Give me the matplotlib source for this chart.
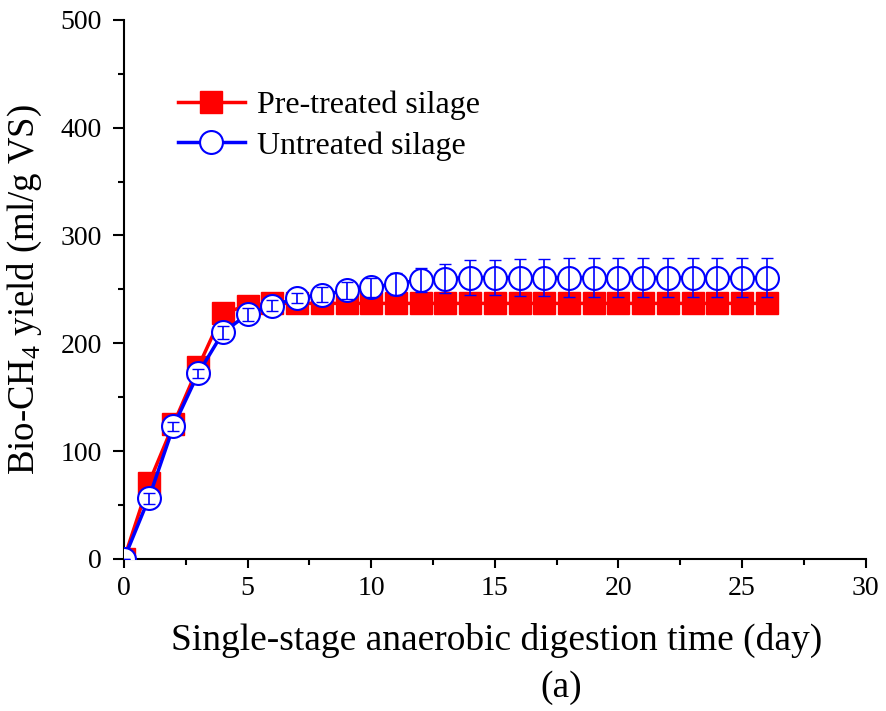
import numpy as np
import matplotlib
matplotlib.use("Agg")
import matplotlib.pyplot as plt
from matplotlib.ticker import MultipleLocator

plt.rcParams["font.family"] = ["Liberation Serif", "DejaVu Serif"]
plt.rcParams["mathtext.fontset"] = "custom"
plt.rcParams["mathtext.rm"] = "Liberation Serif"

days = np.arange(0, 27)
pre = [0, 70, 125, 178, 228, 235, 237, 237, 237, 237, 237, 237, 237, 237,
       237, 237, 237, 237, 237, 237, 237, 237, 237, 237, 237, 237, 237]
pre_err = [0, 4, 4, 4, 5, 5, 5, 5, 5, 5, 5, 5, 5, 5,
           5, 5, 5, 5, 5, 5, 5, 5, 5, 5, 5, 5, 5]
unt = [0, 56, 123, 172, 210, 227, 235, 242, 245, 249, 252, 255, 259, 260,
       261, 261, 261, 261, 261, 261, 261, 261, 261, 261, 261, 261, 261]
unt_err = [0, 5, 4, 4, 6, 6, 5, 5, 7, 8, 9, 10, 11, 13.5,
           16, 16, 17, 17.5, 18, 18, 18, 18, 18, 18, 18, 18, 18]

fig = plt.figure(figsize=(8.86, 7.11), dpi=100)
ax = fig.add_axes([0.140, 0.214, 0.837, 0.758])

ax.plot(days, pre, color="red", lw=2.5, marker="s", ms=15.5, mfc="red", mec="red",
        label="Pre-treated silage", zorder=2)
ax.errorbar(days, pre, yerr=pre_err, fmt="none", ecolor="red", elinewidth=1,
            capsize=4.5, zorder=2.5)
ax.plot(days, unt, color="blue", lw=2.5, marker="o", ms=16.5, mfc="white", mec="blue",
        mew=1.5, label="Untreated silage", zorder=3)
ax.errorbar(days, unt, yerr=unt_err, fmt="none", ecolor="blue", elinewidth=1.2,
            capsize=4.5, zorder=3.5)

ax.set_xlim(0, 30)
ax.set_ylim(0, 500)
ax.xaxis.set_major_locator(MultipleLocator(5))
ax.xaxis.set_minor_locator(MultipleLocator(2.5))
ax.yaxis.set_major_locator(MultipleLocator(100))
ax.yaxis.set_minor_locator(MultipleLocator(50))
for s in ["top", "right"]:
    ax.spines[s].set_visible(False)
for s in ["left", "bottom"]:
    ax.spines[s].set_linewidth(1.5)
ax.tick_params(which="major", direction="out", width=1.5, labelsize=20)
ax.tick_params(which="minor", direction="out", length=4, width=1.5)
ax.tick_params(axis="y", which="major", length=8, pad=8)
ax.tick_params(axis="x", which="major", length=6.5, pad=6)

ax.set_ylabel("Bio-CH$_\\mathregular{4}$ yield (ml/g VS)", fontsize=26.5)
ax.yaxis.set_label_coords(-0.108, 0.5)
ax.set_xlabel("Single-stage anaerobic digestion time (day)", fontsize=27)
ax.xaxis.set_label_coords(0.502, -0.118)
fig.text(0.633, 0.02, "(a)", fontsize=27, ha="center")

leg = ax.legend(loc="upper left", bbox_to_anchor=(0.055, 0.893), frameon=False,
                fontsize=23, handlelength=2.1, handletextpad=0.4, labelspacing=0.35,
                borderaxespad=0)

fig.savefig("out.png", dpi=100)
